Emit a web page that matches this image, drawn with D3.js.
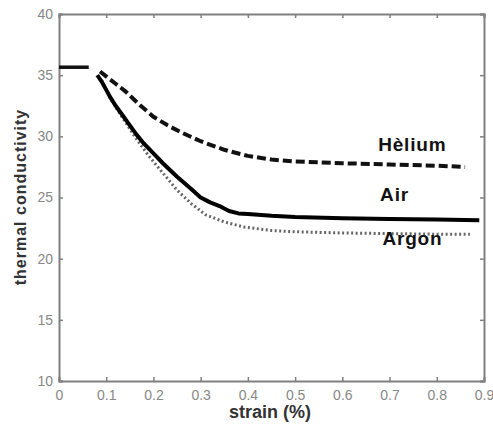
<!DOCTYPE html>
<html><head><meta charset="utf-8">
<script src="https://cdn.jsdelivr.net/npm/d3@7"></script>
<style>body{margin:0;background:#fff}svg{display:block}</style>
</head><body>
<svg id="chart" width="493" height="425"></svg>
<script>
const xTicks = [0, 0.1, 0.2, 0.3, 0.4, 0.5, 0.6, 0.7, 0.8, 0.9];
const yTicks = [10, 15, 20, 25, 30, 35, 40];

const initialStrain = [0, 0.063];
const initialK = [35.65, 35.65];

const heliumStrain = [0.087, 0.1, 0.12, 0.14, 0.17, 0.2, 0.23, 0.26, 0.3, 0.35, 0.4, 0.45, 0.5, 0.6, 0.7, 0.8, 0.86];
const heliumK = [35.3, 34.9, 34.3, 33.7, 32.6, 31.6, 30.9, 30.3, 29.6, 28.9, 28.4, 28.1, 27.95, 27.8, 27.7, 27.6, 27.5];

const airStrain = [0.081, 0.09, 0.1, 0.11, 0.12, 0.135, 0.15, 0.165, 0.18, 0.2, 0.22, 0.25, 0.28, 0.3, 0.32, 0.34, 0.36, 0.38, 0.4, 0.45, 0.5, 0.6, 0.7, 0.8, 0.89];
const airK = [35.0, 34.5, 33.8, 33.1, 32.5, 31.7, 30.9, 30.1, 29.4, 28.6, 27.8, 26.7, 25.7, 25.0, 24.6, 24.3, 23.9, 23.7, 23.65, 23.5, 23.4, 23.3, 23.25, 23.2, 23.15];

const argonStrain = [0.09, 0.1, 0.11, 0.13, 0.16, 0.19, 0.22, 0.25, 0.28, 0.31, 0.35, 0.39, 0.45, 0.5, 0.6, 0.7, 0.8, 0.87];
const argonK = [34.6, 33.8, 33.0, 31.8, 30.0, 28.4, 27.0, 25.6, 24.5, 23.6, 23.0, 22.6, 22.3, 22.2, 22.1, 22.05, 22.0, 22.0];

const labels = [
  {text: "Hèlium", x: 0.676, y: 28.8},
  {text: "Air", x: 0.68, y: 24.7},
  {text: "Argon", x: 0.685, y: 21.1}
];

const svg = d3.select("#chart");
const L = 59, R = 484, T = 14, B = 381;
const x = d3.scaleLinear().domain([0, 0.9]).range([L, R]);
const y = d3.scaleLinear().domain([10, 40]).range([B, T]);
const axisColor = "#808080";

const line = d3.line().x(d => x(d[0])).y(d => y(d[1]));
const zip = (a, b) => a.map((v, i) => [v, b[i]]);

// axes
const gx = svg.append("g").attr("transform", `translate(0,${B})`)
  .call(d3.axisBottom(x).tickValues(xTicks).tickSize(-4).tickPadding(9).tickFormat(d3.format("")));
const gy = svg.append("g").attr("transform", `translate(${L},0)`)
  .call(d3.axisLeft(y).tickValues(yTicks).tickSize(-4).tickPadding(6));
const gxt = svg.append("g").attr("transform", `translate(0,${T})`)
  .call(d3.axisTop(x).tickValues(xTicks).tickSize(-4).tickFormat(""));
const gyr = svg.append("g").attr("transform", `translate(${R},0)`)
  .call(d3.axisRight(y).tickValues(yTicks).tickSize(-4).tickFormat(""));
[gx, gy, gxt, gyr].forEach(g => {
  g.selectAll(".domain").attr("stroke", axisColor).attr("stroke-width", 2);
  g.selectAll(".tick line").attr("stroke", axisColor).attr("stroke-width", 1.5);
  g.selectAll("text").attr("fill", "#888").attr("font-family", "Arial, 'Liberation Sans', sans-serif").attr("font-size", 14);
});

// series
svg.append("path").datum(zip(initialStrain, initialK)).attr("d", line)
  .attr("fill", "none").attr("stroke", "#111").attr("stroke-width", 3.5);
svg.append("path").datum(zip(argonStrain, argonK)).attr("d", line)
  .attr("fill", "none").attr("stroke", "#666").attr("stroke-width", 3).attr("stroke-dasharray", "2,2.5");
svg.append("path").datum(zip(heliumStrain, heliumK)).attr("d", line)
  .attr("fill", "none").attr("stroke", "#111").attr("stroke-width", 4).attr("stroke-dasharray", "9,4");
svg.append("path").datum(zip(airStrain, airK)).attr("d", line)
  .attr("fill", "none").attr("stroke", "#000").attr("stroke-width", 4).attr("stroke-linejoin", "round");

// labels
svg.selectAll(".lbl").data(labels).enter().append("text")
  .attr("x", d => x(d.x)).attr("y", d => y(d.y))
  .attr("font-family", "Arial, 'Liberation Sans', sans-serif").attr("font-weight", "bold")
  .attr("font-size", 19).attr("letter-spacing", 0.8).attr("fill", "#111").text(d => d.text);

// axis titles
svg.append("text").attr("x", 270).attr("y", 418).attr("text-anchor", "middle")
  .attr("font-family", "Arial, 'Liberation Sans', sans-serif").attr("font-weight", "bold")
  .attr("font-size", 18).attr("fill", "#333").text("strain (%)");
svg.append("text").attr("transform", "translate(26,197) rotate(-90)").attr("text-anchor", "middle")
  .attr("font-family", "Arial, 'Liberation Sans', sans-serif").attr("font-weight", "bold")
  .attr("font-size", 16).attr("letter-spacing", 1).attr("fill", "#333").text("thermal conductivity");
</script>
</body></html>
